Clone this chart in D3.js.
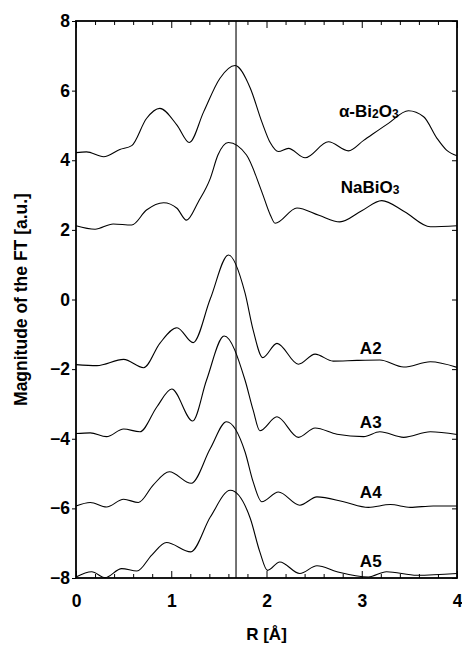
<!DOCTYPE html>
<html>
<head>
<meta charset="utf-8">
<script src="https://cdn.jsdelivr.net/npm/d3@7"></script>
<style>
  body { margin: 0; background: #fff; }
  svg text { font-family: "Liberation Sans", Arial, sans-serif; font-weight: bold; fill: #000; }
</style>
</head>
<body>
<div id="chart"></div>
<script>
// data: [R (Å), magnitude (offset)]
var alphaBi2O3 = [[0,4.22],[0.11,4.24],[0.29,4.10],[0.46,4.31],[0.585,4.42],[0.74,5.20],[0.88,5.49],[1.06,5.01],[1.19,4.51],[1.34,5.39],[1.51,6.35],[1.67,6.72],[1.83,6.07],[1.95,5.11],[2.04,4.50],[2.125,4.25],[2.23,4.34],[2.405,4.07],[2.65,4.53],[2.86,4.27],[3.02,4.57],[3.28,5.06],[3.49,5.42],[3.65,5.25],[3.79,4.63],[3.89,4.29],[4.0,4.13]];
var naBiO3 = [[0,2.12],[0.2,2.02],[0.39,2.17],[0.585,2.14],[0.74,2.57],[0.92,2.78],[1.06,2.62],[1.16,2.28],[1.285,2.81],[1.41,3.48],[1.49,4.15],[1.60,4.51],[1.79,4.15],[1.95,3.10],[2.04,2.43],[2.09,2.19],[2.32,2.63],[2.55,2.42],[2.77,2.23],[3.0,2.55],[3.21,2.84],[3.45,2.52],[3.72,2.09],[4.0,2.12]];
var a2 = [[0,-1.87],[0.22,-1.90],[0.50,-1.72],[0.71,-1.96],[0.88,-1.26],[1.06,-0.81],[1.23,-1.24],[1.41,0.02],[1.60,1.28],[1.775,0.18],[1.86,-0.88],[1.96,-1.67],[2.11,-1.26],[2.335,-1.86],[2.51,-1.57],[2.70,-1.77],[2.95,-1.75],[3.19,-1.74],[3.44,-1.94],[3.72,-1.79],[4.0,-1.95]];
var a3 = [[0,-3.85],[0.15,-3.83],[0.32,-3.94],[0.50,-3.72],[0.67,-3.80],[0.85,-3.08],[1.005,-2.57],[1.225,-3.49],[1.37,-2.32],[1.555,-1.05],[1.775,-2.32],[1.86,-3.18],[1.93,-3.77],[2.11,-3.37],[2.335,-3.96],[2.51,-3.69],[2.74,-3.87],[3.02,-3.94],[3.19,-3.80],[3.44,-3.96],[3.72,-3.80],[4.0,-3.88]];
var a4 = [[0,-5.93],[0.15,-5.83],[0.32,-5.96],[0.50,-5.74],[0.655,-5.83],[0.81,-5.33],[0.98,-4.95],[1.21,-5.28],[1.41,-4.28],[1.58,-3.51],[1.775,-4.38],[1.86,-5.24],[1.95,-5.81],[2.125,-5.53],[2.35,-5.91],[2.53,-5.67],[2.81,-5.81],[3.07,-5.97],[3.30,-5.89],[3.51,-5.97],[3.75,-5.93],[4.0,-5.93]];
var a5 = [[0,-7.97],[0.165,-7.82],[0.305,-7.99],[0.48,-7.73],[0.64,-7.80],[0.795,-7.34],[0.95,-6.98],[1.205,-7.25],[1.41,-6.25],[1.62,-5.48],[1.83,-6.29],[1.93,-7.25],[2.01,-7.78],[2.14,-7.54],[2.35,-7.87],[2.53,-7.65],[2.74,-7.82],[3.07,-7.97],[3.26,-7.82],[3.58,-7.92],[4.0,-7.87]];

var seriesData = [alphaBi2O3, naBiO3, a2, a3, a4, a5];
var seriesNames = ["α-Bi2O3", "NaBiO3", "A2", "A3", "A4", "A5"];
// where each name sits, in data units [R, magnitude]
var labelAnchors = [[2.76,5.24],[2.78,3.07],[2.98,-1.57],[2.98,-3.69],[2.98,-5.69],[2.98,-7.68]];
var refLineR = 1.68;

var xTicks = [0, 1, 2, 3, 4];
var yTicks = [-8, -6, -4, -2, 0, 2, 4, 6, 8];

//Step1:- svg and frame
var svgWidth = 462, svgHeight = 648;
var margin = {top: 21, right: 5, bottom: 70, left: 76};
var width = svgWidth - margin.left - margin.right;
var height = svgHeight - margin.top - margin.bottom;

var svg = d3.select("#chart").append("svg")
    .attr("width", svgWidth)
    .attr("height", svgHeight);

var chartGroup = svg.append("g")
    .attr("transform", `translate(${margin.left}, ${margin.top})`);

//Step2:- scales
var xScale = d3.scaleLinear().domain([0, 4]).range([0, width]);
var yScale = d3.scaleLinear().domain([-8, 8]).range([height, 0]);

//Step3:- axes
var minorX = d3.range(0, 4.001, 0.2).filter(d => Math.abs(d - Math.round(d)) > 1e-6);

function styleAxis(g){
    g.select(".domain").remove();
    g.selectAll("line").attr("stroke", "#000").attr("stroke-width", 1);
}

// bottom: minor + major inward, labels
chartGroup.append("g")
    .attr("transform", `translate(0, ${height})`)
    .call(d3.axisBottom(xScale).tickValues(minorX).tickSize(-4).tickFormat(""))
    .call(styleAxis);
chartGroup.append("g")
    .attr("transform", `translate(0, ${height})`)
    .call(d3.axisBottom(xScale).tickValues(xTicks).tickSize(-7).tickPadding(17).tickFormat(d3.format("d")))
    .call(styleAxis)
    .selectAll("text").style("font-size", "17.5px");

// top: inward ticks only
chartGroup.append("g")
    .call(d3.axisTop(xScale).tickValues(minorX).tickSize(-4).tickFormat(""))
    .call(styleAxis);
chartGroup.append("g")
    .call(d3.axisTop(xScale).tickValues(xTicks).tickSize(-7).tickFormat(""))
    .call(styleAxis);

// left: outward ticks + labels
chartGroup.append("g")
    .call(d3.axisLeft(yScale).tickValues(yTicks).tickSize(4).tickPadding(2).tickFormat(d3.format("d")))
    .call(styleAxis)
    .selectAll("text").style("font-size", "17.5px");

// right: inward ticks
chartGroup.append("g")
    .attr("transform", `translate(${width}, 0)`)
    .call(d3.axisRight(yScale).tickValues(yTicks).tickSize(-5).tickFormat(""))
    .call(styleAxis);

//Step4:- curves
var line = d3.line()
    .x(d => xScale(d[0]))
    .y(d => yScale(d[1]))
    .curve(d3.curveMonotoneX);

chartGroup.selectAll(".ft")
    .data(seriesData)
    .enter()
    .append("path")
    .attr("class", "ft")
    .attr("d", line)
    .attr("fill", "none")
    .attr("stroke", "#000")
    .attr("stroke-width", 1.1);

// reference line
chartGroup.append("line")
    .attr("x1", xScale(refLineR)).attr("x2", xScale(refLineR))
    .attr("y1", 0).attr("y2", height)
    .attr("stroke", "#000")
    .attr("stroke-width", 1.1);

// frame
chartGroup.append("rect")
    .attr("width", width).attr("height", height)
    .attr("fill", "none")
    .attr("stroke", "#000")
    .attr("stroke-width", 1.8);

//Step5:- series names, digits subscripted
var labels = chartGroup.selectAll(".name")
    .data(seriesNames)
    .enter()
    .append("text")
    .attr("class", "name")
    .attr("x", (d, i) => xScale(labelAnchors[i][0]))
    .attr("y", (d, i) => yScale(labelAnchors[i][1]))
    .style("font-size", "17px");

labels.each(function(name){
    var t = d3.select(this);
    var parts = name.match(/[A-Za-zα\-]+|\d/g);
    var sub = false;
    parts.forEach(function(p){
        var isDigit = /^\d$/.test(p) && name[0] !== "A";
        var span = t.append("tspan").text(p);
        if (isDigit){
            span.style("font-size", "12px").attr("dy", sub ? 0 : 1);
            sub = true;
        } else if (sub){
            span.attr("dy", -1);
            sub = false;
        }
    });
});

//Step6:- axis titles
svg.append("text")
    .attr("transform", `translate(27, ${margin.top + height / 2}) rotate(-90)`)
    .attr("text-anchor", "middle")
    .style("font-size", "17.5px")
    .text("Magnitude of the FT [a.u.]");

svg.append("text")
    .attr("x", margin.left + width / 2)
    .attr("y", 640)
    .attr("text-anchor", "middle")
    .style("font-size", "17px")
    .text("R [Å]");
</script>
</body>
</html>
